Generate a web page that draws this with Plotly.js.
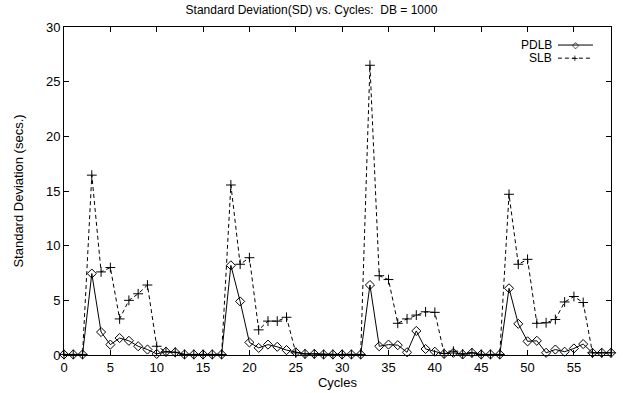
<!DOCTYPE html>
<html>
<head>
<meta charset="utf-8">
<script src="https://cdn.plot.ly/plotly-3.0.1.min.js"></script>
<style>html,body{margin:0;padding:0;background:#fff;}#chart{width:623px;height:393px;}</style>
</head>
<body>
<div id="chart"></div>
<script>
const cycles = Array.from({length: 60}, (_, i) => i);
const pdlb = [0.05,0.05,0.05,7.45,2.1,0.95,1.55,1.3,0.8,0.5,
              0.1,0.3,0.25,0.05,0.05,0.05,0.05,0.05,8.2,4.9,
              1.15,0.65,0.95,0.75,0.45,0.25,0.1,0.1,0.05,0.05,
              0.05,0.05,0.05,6.4,0.8,0.95,0.9,0.25,2.2,0.55,
              0.3,0.1,0.2,0.05,0.2,0.05,0.05,0.05,6.1,2.85,
              1.25,1.3,0.2,0.5,0.3,0.6,1.0,0.2,0.2,0.2];
const slb = [0.05,0.05,0.05,16.45,7.6,8.0,3.3,5.0,5.6,6.4,
             0.8,0.3,0.25,0.05,0.05,0.05,0.05,0.05,15.55,8.3,
             8.9,2.3,3.1,3.1,3.45,0.2,0.1,0.1,0.05,0.05,
             0.05,0.05,0.05,26.5,7.25,6.9,2.9,3.3,3.65,3.95,
             3.9,0.15,0.35,0.1,0.2,0.05,0.05,0.05,14.7,8.3,
             8.75,2.9,2.95,3.25,4.85,5.35,4.8,0.2,0.2,0.2];
const seriesNames = ['PDLB', 'SLB'];
const titleText = 'Standard Deviation(SD) vs. Cycles:  DB = 1000';
const xTitle = 'Cycles';
const yTitle = 'Standard Deviation (secs.)';

const font = {family: 'Liberation Sans, Arial, sans-serif', color: '#000'};

const traces = [
  {x: cycles, y: slb, name: seriesNames[1], mode: 'lines+markers', cliponaxis: false,
   line: {color: '#000', width: 1, dash: '4px,3px'},
   marker: {symbol: 'cross-thin-open', size: 7, color: '#000', line: {color: '#000', width: 1}}},
  {x: cycles, y: pdlb, name: seriesNames[0], mode: 'lines+markers', cliponaxis: false,
   line: {color: '#000', width: 1},
   marker: {symbol: 'diamond-open', size: 7, color: '#000', line: {color: '#000', width: 1}}}
];

const axisCommon = {
  showline: true, linecolor: '#000', linewidth: 1, mirror: 'ticks',
  ticks: 'inside', ticklen: 5, tickcolor: '#000', tickwidth: 1,
  showgrid: false, zeroline: false, dtick: 5,
  tickfont: Object.assign({size: 13}, font), automargin: false
};

const layout = {
  width: 623, height: 393,
  margin: {l: 64, r: 12, t: 27, b: 38},
  paper_bgcolor: '#fff', plot_bgcolor: '#fff',
  showlegend: false,
  font: font,
  title: {text: titleText, font: Object.assign({size: 12}, font), x: 0.5, xanchor: 'center', y: 0.975, yanchor: 'middle'},
  xaxis: Object.assign({}, axisCommon, {range: [0, 59], tick0: 0,
    title: {text: xTitle, font: Object.assign({size: 13}, font), standoff: 0}}),
  yaxis: Object.assign({}, axisCommon, {range: [0, 30], tick0: 0,
    title: {text: yTitle, font: Object.assign({size: 13}, font), standoff: 19}}),
  annotations: [
    {xref: 'paper', yref: 'paper', x: 0.895, y: 0.945, xanchor: 'right', yanchor: 'middle',
     text: seriesNames[0], showarrow: false, font: Object.assign({size: 12}, font)},
    {xref: 'paper', yref: 'paper', x: 0.895, y: 0.905, xanchor: 'right', yanchor: 'middle',
     text: seriesNames[1], showarrow: false, font: Object.assign({size: 12}, font)},
    {xref: 'paper', yref: 'paper', x: 0.935, y: 0.945, xanchor: 'center', yanchor: 'middle',
     text: '◇', showarrow: false, font: {family: 'DejaVu Sans', size: 9, color: '#000'}},
    {xref: 'paper', yref: 'paper', x: 0.935, y: 0.905, xanchor: 'center', yanchor: 'middle',
     text: '+', showarrow: false, font: {family: 'DejaVu Sans', size: 9, color: '#000'}}
  ],
  shapes: [
    {type: 'line', xref: 'paper', yref: 'paper', x0: 0.903, x1: 0.967, y0: 0.945, y1: 0.945,
     line: {color: '#000', width: 1}},
    {type: 'line', xref: 'paper', yref: 'paper', x0: 0.903, x1: 0.967, y0: 0.905, y1: 0.905,
     line: {color: '#000', width: 1, dash: '4px,3px'}}
  ]
};

Plotly.newPlot('chart', traces, layout, {displayModeBar: false, staticPlot: true});
</script>
</body>
</html>
